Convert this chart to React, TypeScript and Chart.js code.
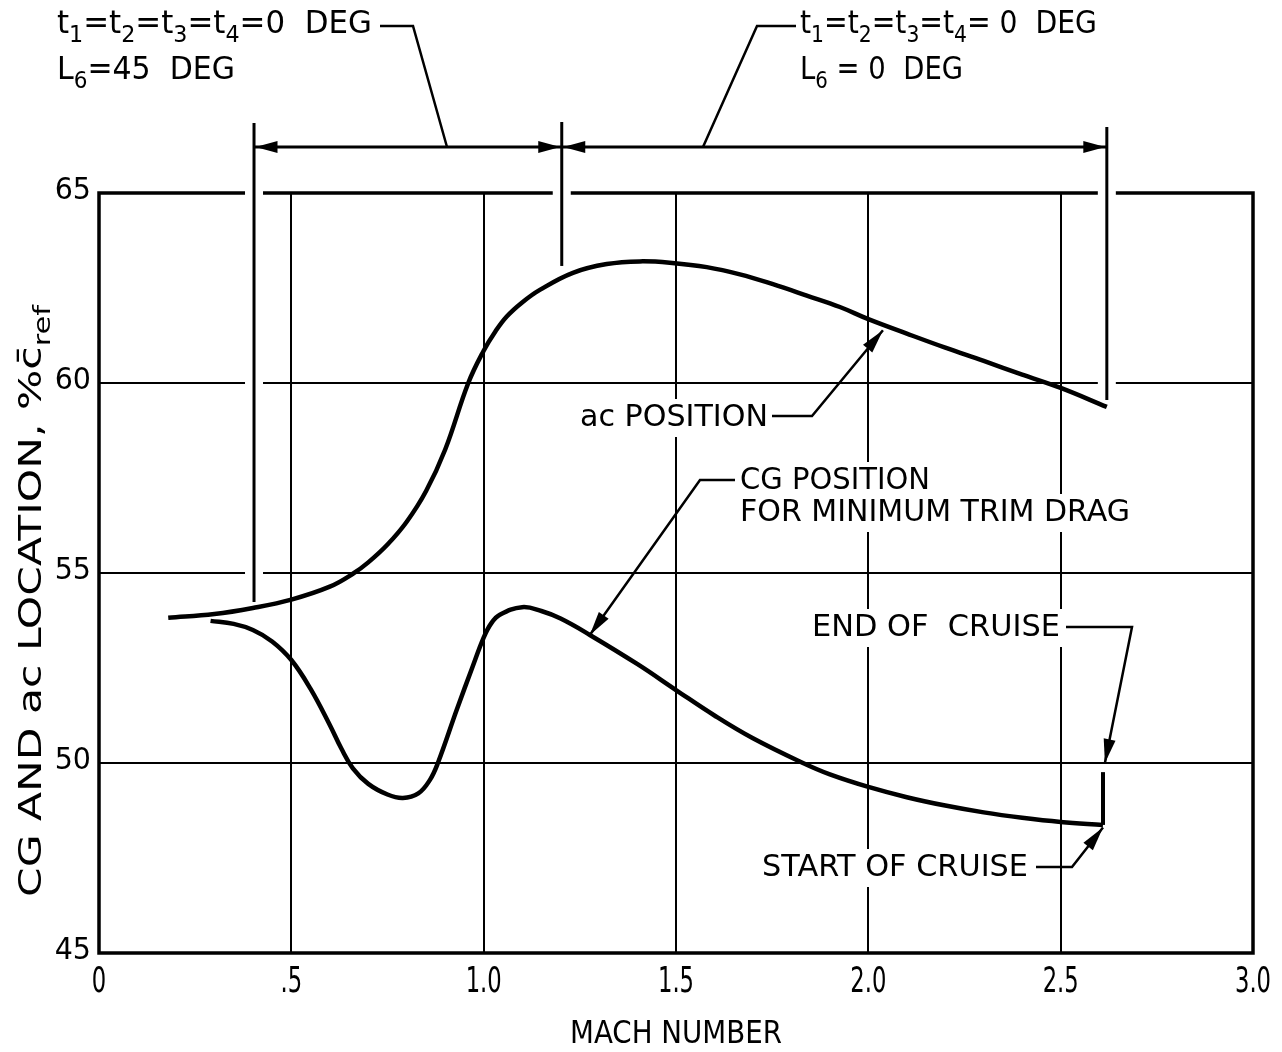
import React, { useEffect, useRef } from 'react';
import { Chart, registerables } from 'chart.js';

Chart.register(...registerables);

const FONT = '"DejaVu Sans", "Liberation Sans", sans-serif';
const CFONT = '"DejaVu Sans Condensed", "DejaVu Sans", sans-serif';

// ac position curve (upper)
const acMach = [0.18, 0.3, 0.4, 0.5, 0.6, 0.66, 0.7, 0.75, 0.8, 0.85, 0.9, 0.96, 1.0, 1.03, 1.06, 1.1, 1.146, 1.232, 1.32, 1.406, 1.49, 1.58, 1.666, 1.752, 1.84, 1.926, 2.0, 2.1, 2.2, 2.3, 2.4, 2.5, 2.62];
const acPos = [53.82, 53.92, 54.08, 54.3, 54.64, 54.98, 55.28, 55.75, 56.35, 57.15, 58.25, 60.0, 60.85, 61.35, 61.75, 62.12, 62.45, 62.9, 63.13, 63.2, 63.16, 63.05, 62.86, 62.6, 62.3, 62.0, 61.68, 61.3, 60.93, 60.58, 60.22, 59.87, 59.37];

// CG position for minimum trim drag (lower)
const cgMach = [0.29, 0.35, 0.4, 0.45, 0.5, 0.55, 0.6, 0.63, 0.66, 0.7, 0.75, 0.79, 0.83, 0.86, 0.881, 0.93, 0.97, 1.0, 1.02, 1.042, 1.1, 1.15, 1.2, 1.276, 1.4, 1.5, 1.6, 1.7, 1.83, 1.9, 2.0, 2.1, 2.2, 2.3, 2.4, 2.5, 2.61];
const cgPos = [53.74, 53.66, 53.5, 53.2, 52.71, 51.95, 51.0, 50.38, 49.86, 49.45, 49.17, 49.08, 49.2, 49.55, 50.0, 51.4, 52.5, 53.3, 53.68, 53.9, 54.1, 54.0, 53.8, 53.37, 52.6, 51.92, 51.25, 50.65, 50.0, 49.7, 49.37, 49.1, 48.88, 48.7, 48.56, 48.45, 48.37];

// cruise segment
const cruiseMach = [2.61, 2.61];
const cruisePos = [48.37, 49.76];

const xTickValues = [0, 0.5, 1.0, 1.5, 2.0, 2.5, 3.0];
const xTickLabels = ['0', '.5', '1.0', '1.5', '2.0', '2.5', '3.0'];
const yTickValues = [45, 50, 55, 60, 65];
const yTickLabels = ['45', '50', '55', '60', '65'];

// range boundaries (Mach) for the configuration dimension lines
const rangeMach = [0.403, 1.203, 2.62];
const rangeLow = [54.24, 63.08, 59.55];

type Seg = [string, boolean];

function segWidth(ctx: CanvasRenderingContext2D, segs: Seg[], size: number, font: string) {
  let w = 0;
  for (const [t, sub] of segs) {
    ctx.font = `${sub ? size * 0.72 : size}px ${font}`;
    w += ctx.measureText(t).width;
  }
  return w;
}

function drawSegs(ctx: CanvasRenderingContext2D, segs: Seg[], x: number, y: number, size: number, sx: number, align: 'left' | 'center' | 'right', font: string) {
  const w = segWidth(ctx, segs, size, font) * sx;
  const left = align === 'left' ? x : align === 'right' ? x - w : x - w / 2;
  ctx.save();
  ctx.translate(left, y);
  ctx.scale(sx, 1);
  ctx.textAlign = 'left';
  ctx.textBaseline = 'middle';
  let cx = 0;
  for (const [t, sub] of segs) {
    ctx.font = `${sub ? size * 0.72 : size}px ${font}`;
    ctx.fillText(t, cx, sub ? size * 0.33 : 0);
    cx += ctx.measureText(t).width;
  }
  ctx.restore();
}

// draws rich text so that it spans exactly targetW pixels horizontally
function drawFit(ctx: CanvasRenderingContext2D, segs: Seg[], x: number, y: number, size: number, targetW: number, align: 'left' | 'center' | 'right' = 'left', font = FONT) {
  const w = segWidth(ctx, segs, size, font);
  drawSegs(ctx, segs, x, y, size, targetW / w, align, font);
}

function arrowHead(ctx: CanvasRenderingContext2D, fx: number, fy: number, tx: number, ty: number, len = 24, hw = 6) {
  const a = Math.atan2(ty - fy, tx - fx);
  const bx = tx - len * Math.cos(a);
  const by = ty - len * Math.sin(a);
  ctx.beginPath();
  ctx.moveTo(tx, ty);
  ctx.lineTo(bx + hw * Math.sin(a), by - hw * Math.cos(a));
  ctx.lineTo(bx - hw * Math.sin(a), by + hw * Math.cos(a));
  ctx.closePath();
  ctx.fill();
}

function leader(ctx: CanvasRenderingContext2D, pts: number[][], arrow: boolean) {
  ctx.beginPath();
  ctx.moveTo(pts[0][0], pts[0][1]);
  for (let i = 1; i < pts.length; i++) ctx.lineTo(pts[i][0], pts[i][1]);
  ctx.stroke();
  if (arrow) {
    const n = pts.length;
    arrowHead(ctx, pts[n - 2][0], pts[n - 2][1], pts[n - 1][0], pts[n - 1][1]);
  }
}

const textBoxes = [
  { text: 'ac POSITION', x: 580, y: 418, w: 188 },
  { text: 'CG POSITION', x: 740, y: 481, w: 190 },
  { text: 'FOR MINIMUM TRIM DRAG', x: 740, y: 513, w: 390 },
  { text: 'END OF  CRUISE', x: 812, y: 628, w: 248 },
  { text: 'START OF CRUISE', x: 762, y: 868, w: 266 },
];

const annotPlugin = {
  id: 'annot',
  beforeDatasetsDraw(chart: any) {
    const ctx: CanvasRenderingContext2D = chart.ctx;
    const xs = chart.scales.x;
    const ys = chart.scales.y;
    const a = chart.chartArea;
    ctx.save();
    ctx.strokeStyle = '#000';
    ctx.lineWidth = 3.5;
    ctx.strokeRect(a.left, a.top, a.right - a.left, a.bottom - a.top);
    ctx.fillStyle = '#fff';
    for (const b of textBoxes) ctx.fillRect(b.x - 5, b.y - 19, b.w + 10, 38);
    rangeMach.forEach((m, i) => {
      const px = xs.getPixelForValue(m);
      for (const v of yTickValues) {
        if (v >= rangeLow[i]) {
          const py = ys.getPixelForValue(v);
          ctx.fillRect(px - 9, py - 3, 18, 6);
        }
      }
    });
    // tick labels
    ctx.fillStyle = '#000';
    xTickValues.forEach((v, i) => {
      drawSegs(ctx, [[xTickLabels[i], false]], xs.getPixelForValue(v), 983, 35, 0.72, 'center', CFONT);
    });
    yTickValues.forEach((v, i) => {
      drawSegs(ctx, [[yTickLabels[i], false]], 91, ys.getPixelForValue(v) - 2, 30, 0.95, 'right', FONT);
    });
    ctx.restore();
  },
  afterDatasetsDraw(chart: any) {
    const ctx: CanvasRenderingContext2D = chart.ctx;
    const xs = chart.scales.x;
    const ys = chart.scales.y;
    const X = (v: number) => xs.getPixelForValue(v);
    const Y = (v: number) => ys.getPixelForValue(v);
    ctx.save();
    ctx.fillStyle = '#000';
    ctx.strokeStyle = '#000';
    ctx.lineCap = 'butt';

    // extension lines
    ctx.lineWidth = 3;
    const tops = [123, 122, 127];
    rangeMach.forEach((m, i) => {
      ctx.beginPath();
      ctx.moveTo(X(m), tops[i]);
      ctx.lineTo(X(m), Y(rangeLow[i]));
      ctx.stroke();
    });
    // dimension line
    const dy = 147;
    ctx.beginPath();
    ctx.moveTo(X(rangeMach[0]), dy);
    ctx.lineTo(X(rangeMach[2]), dy);
    ctx.stroke();
    const x0 = X(rangeMach[0]) + 1.5, x1 = X(rangeMach[1]), x2 = X(rangeMach[2]) - 1.5;
    arrowHead(ctx, x0 + 30, dy, x0, dy, 22, 6);
    arrowHead(ctx, x1 - 30, dy, x1 - 1.5, dy, 22, 6);
    arrowHead(ctx, x1 + 30, dy, x1 + 1.5, dy, 22, 6);
    arrowHead(ctx, x2 - 30, dy, x2, dy, 22, 6);

    // header labels
    const S = 32;
    const tSegs: Seg[] = [['t', false], ['1', true], ['=t', false], ['2', true], ['=t', false], ['3', true], ['=t', false], ['4', true], ['=0  DEG', false]];
    drawFit(ctx, tSegs, 57, 25, S, 315);
    drawFit(ctx, [['L', false], ['6', true], ['=45  DEG', false]], 57, 71, S, 178);
    const tSegs2: Seg[] = [['t', false], ['1', true], ['=t', false], ['2', true], ['=t', false], ['3', true], ['=t', false], ['4', true], ['= 0  DEG', false]];
    drawFit(ctx, tSegs2, 800, 25, S, 297);
    drawFit(ctx, [['L', false], ['6', true], [' = 0  DEG', false]], 800, 71, S, 163);

    ctx.lineWidth = 2.5;
    leader(ctx, [[380, 26], [413, 26], [447, dy]], false);
    leader(ctx, [[796, 26], [757, 26], [703, dy]], false);

    // in-plot labels
    for (const b of textBoxes) drawFit(ctx, [[b.text, false]], b.x, b.y, 30, b.w);

    ctx.lineWidth = 2.5;
    leader(ctx, [[772, 416], [812, 416], [X(2.038), Y(61.39)]], true);
    leader(ctx, [[735, 480], [700, 480], [X(1.276), Y(53.37)]], true);
    leader(ctx, [[1066, 627], [1132, 627], [X(2.615), Y(50.0)]], true);
    leader(ctx, [[1036, 867], [1072, 867], [X(2.61), Y(48.3)]], true);

    // axis titles
    drawFit(ctx, [['MACH NUMBER', false]], 676, 1035, 32, 212, 'center');

    ctx.translate(33, 601);
    ctx.rotate(-Math.PI / 2);
    drawFit(ctx, [['CG AND ac LOCATION, %c\u0304', false], ['ref', true]], 0, 0, 32, 592, 'center', CFONT);
    ctx.restore();
  },
};

export default function App() {
  const ref = useRef<HTMLCanvasElement | null>(null);
  useEffect(() => {
    if (!ref.current) return;
    const chart = new Chart(ref.current, {
      type: 'scatter',
      data: {
        datasets: [
          {
            data: acMach.map((x, i) => ({ x, y: acPos[i] })),
            showLine: true,
            borderColor: '#000',
            borderWidth: 4.5,
            pointRadius: 0,
            tension: 0.4,
          },
          {
            data: cgMach.map((x, i) => ({ x, y: cgPos[i] })),
            showLine: true,
            borderColor: '#000',
            borderWidth: 4.5,
            pointRadius: 0,
            tension: 0.4,
          },
          {
            data: cruiseMach.map((x, i) => ({ x, y: cruisePos[i] })),
            showLine: true,
            borderColor: '#000',
            borderWidth: 4,
            pointRadius: 0,
            tension: 0,
          },
        ],
      } as any,
      options: {
        responsive: false,
        animation: false,
        devicePixelRatio: 1,
        layout: { padding: { left: 0, top: 193, right: 29, bottom: 0 } },
        plugins: { legend: { display: false }, tooltip: { enabled: false } },
        scales: {
          x: {
            type: 'linear',
            min: 0,
            max: 3,
            afterBuildTicks: (s: any) => {
              s.ticks = xTickValues.map((v) => ({ value: v }));
            },
            afterFit: (s: any) => {
              s.height = 99;
            },
            ticks: { display: false },
            grid: { color: '#000', lineWidth: 2, drawTicks: false },
            border: { display: false },
          },
          y: {
            type: 'linear',
            min: 45,
            max: 65,
            afterBuildTicks: (s: any) => {
              s.ticks = yTickValues.map((v) => ({ value: v }));
            },
            afterFit: (s: any) => {
              s.width = 99;
            },
            ticks: { display: false },
            grid: { color: '#000', lineWidth: 2, drawTicks: false },
            border: { display: false },
          },
        },
      } as any,
      plugins: [annotPlugin],
    });
    return () => chart.destroy();
  }, []);
  return (
    <div style={{ position: 'fixed', left: 0, top: 0, width: 1282, height: 1052, background: '#fff' }}>
      <canvas ref={ref} width={1282} height={1052} style={{ display: 'block' }} />
    </div>
  );
}
